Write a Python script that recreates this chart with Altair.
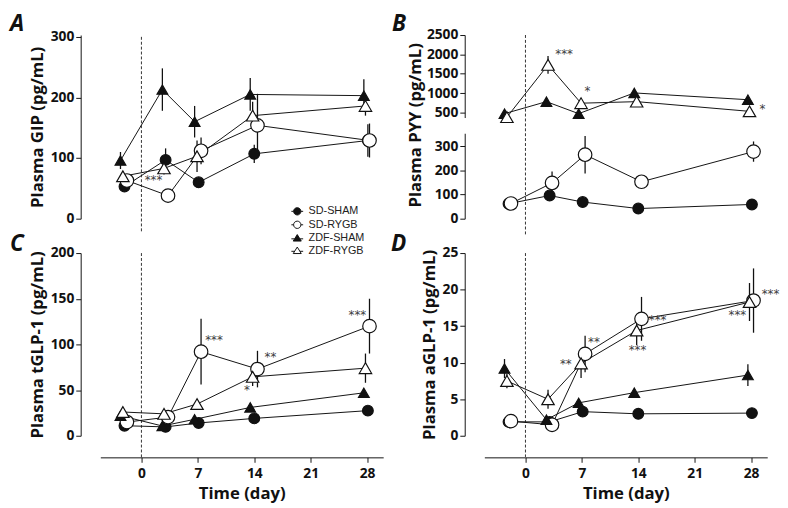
import altair as alt
import pandas as pd

FONT = "Open Sans"
INK = "#111111"

SERIES = ["SD-SHAM", "SD-RYGB", "ZDF-SHAM", "ZDF-RYGB"]
# plotted day of each time point (small horizontal offsets as drawn in the figure)
DAY_SD_SHAM = [-2.1, 3.0, 7.1, 14.0, 28.1]
DAY_SD_RYGB = [-1.8, 3.3, 7.4, 14.4, 28.3]
DAY_ZDF_SHAM = [-2.6, 2.6, 6.6, 13.5, 27.6]
DAY_ZDF_RYGB = [-2.3, 2.8, 6.9, 13.8, 27.8]
DAYS = [DAY_SD_SHAM, DAY_SD_RYGB, DAY_ZDF_SHAM, DAY_ZDF_RYGB]

# Panel A: GIP (rows follow SERIES order)
GIP_MEAN = [[53, 97, 60, 107, 129], [63, 38, 112, 154, 129],
            [96, 213, 160, 205, 203], [70, 83, 103, 170, 186]]
GIP_ERR = [[5, 19, 8, 15, 27], [6, 6, 22, 52, 28],
           [14, 35, 26, 27, 27], [8, 10, 26, 23, 16]]
GIP_ANN_DAY = [1.5]
GIP_ANN_VAL = [66]
GIP_ANN_TXT = ["***"]

# Panel B: PYY (SD rows on lower segment, ZDF rows on upper segment)
PYY_MEAN = [[62, 96, 69, 42, 59], [63, 148, 265, 153, 278],
            [470, 780, 470, 1005, 830], [380, 1730, 740, 780, 530]]
PYY_ERR = [[4, 8, 6, 4, 5], [6, 48, 78, 10, 42],
           [30, 50, 40, 60, 50], [30, 230, 50, 60, 40]]
PYY_ANN_DAY = [4.8, 7.7, 29.4]
PYY_ANN_VAL = [2040, 1070, 620]
PYY_ANN_TXT = ["***", "*", "*"]

# Panel C: total GLP-1
TGLP_MEAN = [[11, 9.7, 14, 19, 27.5], [15, 20.4, 92, 73, 120],
             [22, 10.7, 18, 31, 47], [26, 24, 34.7, 64.5, 74]]
TGLP_ERR = [[1.5, 1.5, 2, 2.5, 3], [3, 3, 36, 20, 30],
            [2, 1.5, 3, 3, 4], [3, 3, 5, 10, 16]]
TGLP_ANN_DAY = [9.0, 16.0, 13.1, 26.8]
TGLP_ANN_VAL = [106, 87, 51, 133]
TGLP_ANN_TXT = ["***", "**", "*", "***"]

# Panel D: active GLP-1
AGLP_MEAN = [[1.9, 1.9, 3.3, 3.0, 3.1], [2.0, 1.5, 11.2, 16.0, 18.5],
             [9.2, 2.2, 4.5, 5.9, 8.3], [7.5, 5.0, 9.9, 14.4, 18.3]]
AGLP_ERR = [[0.2, 0.2, 0.3, 0.3, 0.3], [0.3, 0.3, 2.5, 3.0, 4.4],
            [1.3, 0.3, 0.5, 0.4, 1.5], [1.0, 1.3, 2.0, 2.0, 2.6]]
AGLP_ANN_DAY = [5.0, 8.5, 16.4, 13.9, 26.3, 30.4]
AGLP_ANN_VAL = [9.9, 13.0, 16.0, 11.8, 16.6, 19.5]
AGLP_ANN_TXT = ["**", "**", "***", "***", "***", "***"]

X_TICKS = [0, 7, 14, 21, 28]
X_DOMAIN = [-5.1, 30]

CIRCLE_PATH = ("M-1,0H-0.62M0.62,0H1M0.62,0A0.62,0.62 0 1 1 -0.62,0"
               "A0.62,0.62 0 1 1 0.62,0Z")
TRI_PATH = "M-1,0.1H-0.45M0.45,0.1H1M0,-0.62L0.68,0.48L-0.68,0.48Z"

W = 288
H = 187


def frame(means, errs, rows):
    recs = []
    for i in rows:
        for d, m, e in zip(DAYS[i], means[i], errs[i]):
            recs.append(dict(series=SERIES[i], day=d, mean=m, lo=m - e, hi=m + e))
    return pd.DataFrame(recs)


def yaxis(values, title):
    return alt.Axis(values=values, title=title, orient="left", format="d", offset=20,
                    grid=False, tickSize=5, labelPadding=2, titlePadding=4, labelFont=FONT,
                    labelFontWeight="bold", labelFontSize=14, labelColor=INK, titleFont=FONT,
                    titleFontWeight="bold", titleFontSize=17, titleColor=INK, domainColor=INK,
                    tickColor=INK, labelOverlap=False, labelFlush=False)


def xaxis():
    return alt.Axis(values=X_TICKS, title="Time (day)", offset=22, grid=False, tickSize=5,
                    labelPadding=5, titlePadding=5, labelFont=FONT, labelFontWeight="bold",
                    labelFontSize=14, labelColor=INK, titleFont=FONT, titleFontWeight="bold",
                    titleFontSize=17, titleColor=INK, domainColor=INK, tickColor=INK,
                    labelFlush=False)


def text_layer(label, x, y, **kw):
    return alt.Chart(pd.DataFrame({"t": [label]})).mark_text(color=INK, **kw).encode(
        text="t:N", x=alt.value(x), y=alt.value(y))


def letter(ch, x, y):
    return text_layer(ch, x, y, font=FONT, fontSize=23, fontWeight="bold", fontStyle="italic",
                      align="left", baseline="top")


def group(df, ys, ya, show_x, dash, ann=None):
    xs = alt.Scale(domain=X_DOMAIN, nice=False, zero=False)
    xa = xaxis() if show_x else None

    def X(f):
        if xa is None:
            return alt.X(f, scale=xs, axis=None)
        return alt.X(f, scale=xs, axis=xa)

    def Y(f):
        return alt.Y(f, scale=ys, axis=ya)

    layers = []
    if dash is not None:
        dash_df = pd.DataFrame({"day": [0], "top": [dash[0]], "bottom": [dash[1]]})
        layers.append(alt.Chart(dash_df).mark_rule(strokeDash=[3, 2], strokeWidth=1,
                                                   color="#333").encode(
            x=X("day:Q"), y=Y("top:Q"), y2="bottom:Q"))
    base = alt.Chart(df)
    layers.append(base.mark_rule(strokeWidth=1.3, color=INK).encode(
        x=X("day:Q"), y=Y("lo:Q"), y2="hi:Q"))
    layers.append(base.mark_line(strokeWidth=1, color=INK).encode(
        x=X("day:Q"), y=Y("mean:Q"), detail="series:N", order="day:Q"))
    layers.append(base.mark_point(filled=True, opacity=1, strokeWidth=1.2).encode(
        x=X("day:Q"), y=Y("mean:Q"),
        shape=alt.condition("indexof(datum.series, 'SD') == 0",
                            alt.value("circle"), alt.value("triangle-up")),
        fill=alt.condition("indexof(datum.series, 'SHAM') >= 0",
                           alt.value(INK), alt.value("white")),
        stroke=alt.value(INK),
        size={"condition": [{"test": "datum.series == 'SD-RYGB'", "value": 190},
                            {"test": "datum.series == 'ZDF-RYGB'", "value": 160}],
              "value": 120},
    ))
    if ann is not None:
        adf = pd.DataFrame({"day": ann[0], "val": ann[1], "txt": ann[2]})
        layers.append(alt.Chart(adf).mark_text(font="DejaVu Sans", fontSize=12, color="#333",
                                               opacity=0.95, baseline="middle", dy=1).encode(
            x=X("day:Q"), y=Y("val:Q"), text="txt:N"))
    return layers


def lin(domain):
    return alt.Scale(domain=domain, nice=False, zero=False)


# legend (drawn from an empty layer with explicit scale domains)
leg = alt.Legend(orient="none", legendX=194, legendY=173, title=None, labelFont="Liberation Sans",
                 labelFontSize=11, labelColor="#222", symbolSize=144, symbolStrokeWidth=1,
                 rowPadding=0.7, labelOffset=5, padding=0)
legend_layer = alt.Chart(pd.DataFrame({"series": pd.Series([], dtype=str)})).mark_point(
    filled=False, opacity=1, strokeWidth=1).encode(
    x=alt.value(0), y=alt.value(0),
    shape=alt.Shape("series:N", scale=alt.Scale(domain=SERIES,
                    range=[CIRCLE_PATH, CIRCLE_PATH, TRI_PATH, TRI_PATH]), legend=leg),
    fill=alt.Fill("series:N", scale=alt.Scale(domain=SERIES,
                  range=[INK, "white", INK, "white"]), legend=leg),
    stroke=alt.Stroke("series:N", scale=alt.Scale(domain=SERIES,
                      range=[INK, INK, INK, INK]), legend=leg),
)

# ---- Panel A
A = alt.layer(
    *group(frame(GIP_MEAN, GIP_ERR, [0, 1, 2, 3]), lin([0, 303]),
           yaxis([0, 100, 200, 300], "Plasma GIP (pg/mL)"), False, (300, -22),
           ann=(GIP_ANN_DAY, GIP_ANN_VAL, GIP_ANN_TXT)),
    letter("A", -92, -22),
    legend_layer,
).properties(width=W, height=H)

# ---- Panel B (broken axis: two y-scales stacked inside one view)
top_scale = alt.Scale(domain=[370, 2500], range=[84, 0], nice=False, zero=False)
bot_scale = alt.Scale(domain=[0, 354], range=[H, 100], nice=False, zero=False)
B_top = alt.layer(*group(frame(PYY_MEAN, PYY_ERR, [2, 3]), top_scale,
                         yaxis([500, 1000, 1500, 2000, 2500], None), False, None,
                         ann=(PYY_ANN_DAY, PYY_ANN_VAL, PYY_ANN_TXT)))
B_bot = alt.layer(*group(frame(PYY_MEAN, PYY_ERR, [0, 1]), bot_scale,
                         yaxis([0, 100, 200, 300], None), False, (761, -69)))
B = alt.layer(
    B_top, B_bot,
    letter("B", -94, -22),
    text_layer("Plasma PYY (pg/mL)", -70, 92, font=FONT, fontSize=17, fontWeight="bold",
               angle=270, align="center", baseline="middle"),
).resolve_scale(y="independent").properties(width=W, height=H)

# ---- Panel C
C = alt.layer(
    *group(frame(TGLP_MEAN, TGLP_ERR, [0, 1, 2, 3]), lin([0, 200]),
           yaxis([0, 50, 100, 150, 200], "Plasma tGLP-1 (pg/mL)"), True, (200, -24),
           ann=(TGLP_ANN_DAY, TGLP_ANN_VAL, TGLP_ANN_TXT)),
    letter("C", -92, -20),
).properties(width=W, height=186)

# ---- Panel D
D = alt.layer(
    *group(frame(AGLP_MEAN, AGLP_ERR, [0, 1, 2, 3]), lin([0, 25]),
           yaxis([0, 5, 10, 15, 20, 25], "Plasma aGLP-1 (pg/mL)"), True, (25, -2.9),
           ann=(AGLP_ANN_DAY, AGLP_ANN_VAL, AGLP_ANN_TXT)),
    letter("D", -95, -20),
).properties(width=W, height=186)

chart = alt.ConcatChart(
    concat=[A, B, C, D], columns=2, spacing={"row": 35, "column": 103}, bounds="flush"
).properties(
    padding={"left": 2, "top": 1, "right": 0, "bottom": 0}
).configure_view(strokeWidth=0)

chart.save("out.html", embed_options={"renderer": "svg", "actions": False})
